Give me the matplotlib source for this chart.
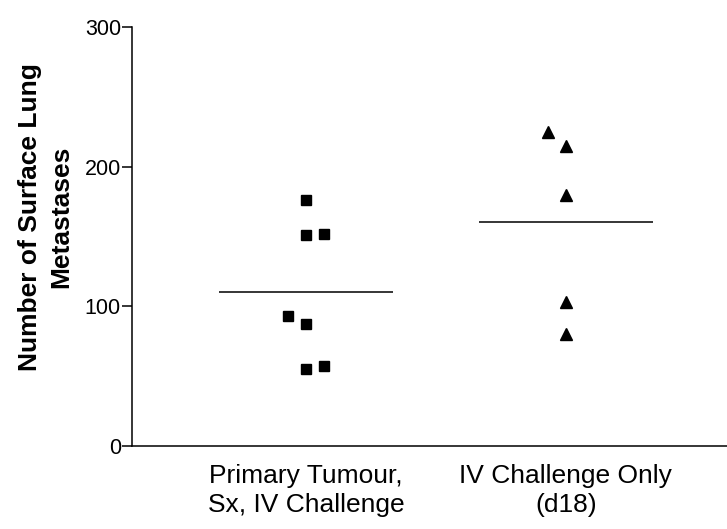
import numpy as np
import matplotlib
matplotlib.use('Agg')
import matplotlib.pyplot as plt

plt.rcParams['font.family'] = ['Liberation Sans', 'DejaVu Sans']

# datos
grupos = ['Primary Tumour,\nSx, IV Challenge', 'IV Challenge Only\n(d18)']
cuadrados = [176, 151, 152, 93, 87, 55, 57]
desplaz_cuad = [0, 0, 1, -1, 0, 0, 1]
triangulos = [225, 215, 180, 103, 80]
desplaz_tri = [-1, 0, 0, 0, 0]
medias = [np.mean(cuadrados), np.mean(triangulos)]

fig = plt.figure(figsize=(7.27, 5.29), dpi=100)
ax = fig.add_axes([0.1816, 0.157, 0.8184, 0.792])

paso = 0.07
ax.plot(1 + paso * np.array(desplaz_cuad), cuadrados, 's', color='black', markersize=7.8)
ax.plot(2 + paso * np.array(desplaz_tri), triangulos, '^', color='black', markersize=9)
for i, m in enumerate(medias):
    ax.hlines(m, i + 1 - 0.335, i + 1 + 0.335, color='black', linewidth=1.1)

ax.set_xlim(0.331, 2.62)
ax.set_ylim(0, 300)
ax.set_yticks([0, 100, 200, 300])
ax.set_xticks([1, 2])
ax.set_xticklabels(grupos, fontsize=19, linespacing=1.25)
ax.tick_params(axis='x', length=0, pad=13)
ax.tick_params(axis='y', length=7, width=1.1, labelsize=15.5, pad=1)
ax.spines['top'].set_visible(False)
ax.spines['right'].set_visible(False)
ax.spines['left'].set_linewidth(1.1)
ax.spines['bottom'].set_linewidth(1.1)
ax.set_ylabel('Number of Surface Lung\nMetastases', fontsize=19, fontweight='bold',
              linespacing=1.4)
ax.yaxis.set_label_coords(-0.099, 0.547)

plt.savefig('out.png', dpi=100)
